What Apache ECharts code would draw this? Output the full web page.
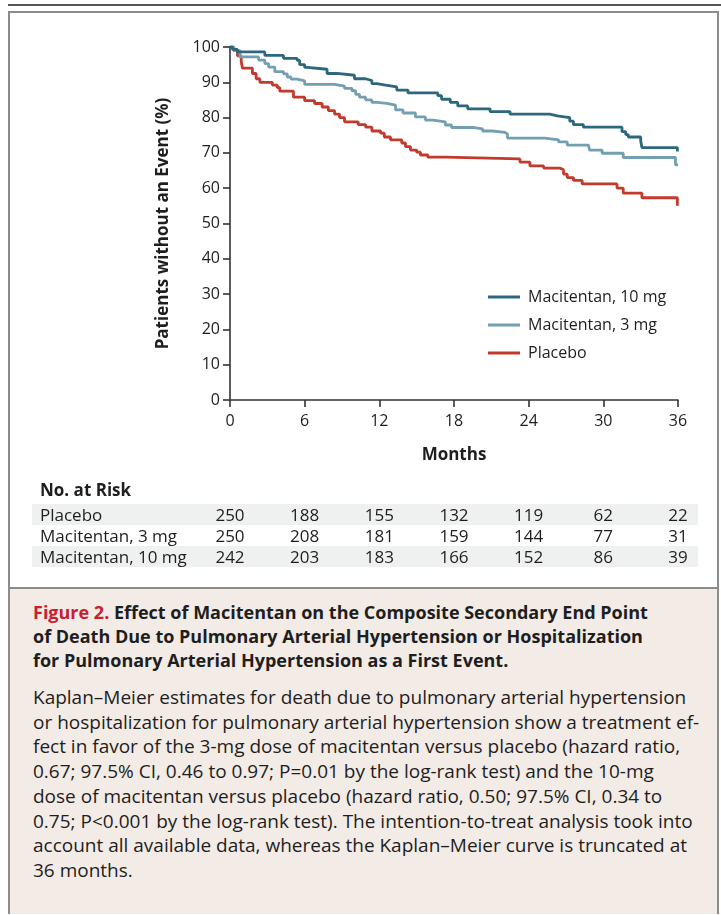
<!DOCTYPE html>
<html>
<head>
<meta charset="utf-8">
<script src="https://cdn.jsdelivr.net/npm/echarts@6/dist/echarts.min.js"></script>
<style>
  html, body { margin: 0; padding: 0; }
  body { width: 721px; height: 915px; position: relative; background: #fff; overflow: hidden;
         font-family: 'Open Sans', 'Noto Sans', sans-serif; color: #1e1e1e; }
  #rule { position: absolute; left: 8px; top: 4px; width: 713px; height: 2px; background: #555; }
  #frame { position: absolute; left: 8px; top: 11px; width: 707px; height: 899px; border: 2px solid #8c8c8c; }
  #caption { position: absolute; left: 10px; top: 587px; width: 707px; height: 325px; background: #f3ebe6; border-top: 2px solid #8c8c8c; }
  #chart { position: absolute; left: 0; top: 0; width: 721px; height: 480px; }
  #risk { position: absolute; left: 0; top: 0; width: 721px; height: 590px; pointer-events: none; }
  .band { position: absolute; left: 32px; width: 666px; height: 21px; }
  .rlabel { position: absolute; left: 40px; font-size: 17px; line-height: 21px; white-space: nowrap; }
  .rnum { position: absolute; font-size: 17px; line-height: 21px; width: 40px; margin-left: -20px; text-align: center; }
  #risktitle { position: absolute; left: 40px; top: 479px; font-size: 17px; font-weight: 700; line-height: 22px; }
  #captext { position: absolute; left: 33px; top: 600px; width: 680px; }
  .hd { font-size: 18px; font-weight: 700; line-height: 24px; white-space: nowrap; }
  .hd .fig { color: #c8202f; }
  .bd { font-size: 19px; line-height: 24.7px; white-space: nowrap; }
  #body { margin-top: 13px; }
</style>
</head>
<body>
<div id="rule"></div>
<div id="frame"></div>
<div id="caption"></div>
<div id="chart"></div>
<div id="risk"></div>
<div id="captext">
  <div class="hd"><span class="fig">Figure 2.</span> Effect of Macitentan on the Composite Secondary End Point</div>
  <div class="hd">of Death Due to Pulmonary Arterial Hypertension or Hospitalization</div>
  <div class="hd">for Pulmonary Arterial Hypertension as a First Event.</div>
  <div id="body">
    <div class="bd">Kaplan–Meier estimates for death due to pulmonary arterial hypertension</div>
    <div class="bd">or hospitalization for pulmonary arterial hypertension show a treatment ef-</div>
    <div class="bd">fect in favor of the 3-mg dose of macitentan versus placebo (hazard ratio,</div>
    <div class="bd">0.67; 97.5% CI, 0.46 to 0.97; P=0.01 by the log-rank test) and the 10-mg</div>
    <div class="bd">dose of macitentan versus placebo (hazard ratio, 0.50; 97.5% CI, 0.34 to</div>
    <div class="bd">0.75; P&lt;0.001 by the log-rank test). The intention-to-treat analysis took into</div>
    <div class="bd">account all available data, whereas the Kaplan–Meier curve is truncated at</div>
    <div class="bd">36 months.</div>
  </div>
</div>
<script>
// ---- Kaplan–Meier step data (months, % without event) ----
const placeboTimes  = [0, 0.3, 0.6, 0.9, 1.0, 1.8, 2.1, 2.4, 3.4, 3.8, 4.0, 5.1, 6.0, 6.8, 7.4, 7.9, 8.4, 8.8, 9.2, 10.3, 10.9, 11.4, 12.1, 12.4, 12.9, 13.8, 14.1, 14.5, 15.0, 15.3, 15.9, 17.3, 23.3, 24.1, 25.2, 26.5, 26.8, 27.1, 27.6, 28.3, 31.1, 31.6, 33.1, 35.95, 36];
const placeboValues = [100, 99, 97.5, 96, 94, 92.5, 91, 90, 89.2, 88.5, 87.5, 85.8, 84.8, 84, 83, 82, 81, 80, 78.8, 78, 77.3, 76.2, 75.6, 74.5, 73.7, 72.8, 71.8, 70.8, 70.2, 69.4, 68.8, 68.3, 67.4, 66.3, 65.7, 65.2, 64, 63, 62.2, 61.2, 60, 58.6, 57.3, 55, 55];

const mac3Times  = [0, 0.3, 0.8, 2.3, 2.8, 3.1, 3.6, 4.3, 4.6, 4.9, 5.4, 6.0, 8.4, 9.2, 9.8, 10.1, 10.4, 10.9, 11.4, 11.8, 12.6, 13.3, 13.9, 14.9, 15.7, 16.3, 17.3, 17.8, 19.5, 20.3, 21.1, 22.1, 22.3, 25.3, 26.4, 27.1, 28.8, 28.9, 29.9, 31.6, 35.8, 36];
const mac3Values = [100, 99, 97.2, 96.3, 95.3, 94.3, 93, 92.4, 91.5, 90.9, 90.4, 89.4, 88.9, 88.3, 87.6, 86.6, 85.8, 85, 84.3, 84, 83.5, 82.2, 81.3, 80.2, 79.3, 78.8, 77.9, 77.2, 76.8, 76.2, 75.8, 75.3, 74.2, 73.7, 73.1, 72.2, 71.7, 70.8, 69.9, 68.7, 66.6, 66.6];

const mac10Times  = [0, 0.2, 0.6, 2.8, 4.3, 5.4, 5.6, 6.0, 6.2, 7.8, 8.6, 10.0, 10.9, 11.4, 11.8, 12.5, 13.4, 14.3, 16.7, 17.0, 17.7, 18.3, 19.1, 20.9, 22.5, 25.7, 26.3, 27.3, 27.6, 28.4, 31.5, 31.8, 32.0, 33.0, 33.1, 35.95, 36];
const mac10Values = [100, 99.3, 98.6, 97.6, 96.8, 96.2, 95, 94.2, 93.7, 92.5, 92, 91, 90.5, 89.6, 89.2, 88.7, 87.8, 87, 86.2, 85.2, 84.3, 83.3, 82.5, 81.7, 81, 80.5, 80, 79, 78, 77.3, 76, 75.2, 74.5, 73.5, 71.5, 70.4, 70.4];

// ---- axis ticks ----
const monthTicks = [0, 6, 12, 18, 24, 30, 36];
const pctTicks = [0, 10, 20, 30, 40, 50, 60, 70, 80, 90, 100];

// ---- number at risk ----
const riskGroups  = ['Placebo', 'Macitentan, 3 mg', 'Macitentan, 10 mg'];
const riskPlacebo = [250, 188, 155, 132, 119, 62, 22];
const riskMac3    = [250, 208, 181, 159, 144, 77, 31];
const riskMac10   = [242, 203, 183, 166, 152, 86, 39];

const seriesNames = ['Macitentan, 10 mg', 'Macitentan, 3 mg', 'Placebo'];
const colors = { 'Macitentan, 10 mg': '#2b687d', 'Macitentan, 3 mg': '#729fb1', 'Placebo': '#c23a2b' };

function pairs(ts, vs) { return ts.map((t, i) => [t, vs[i]]); }

const FONT = "'Open Sans', 'Noto Sans', sans-serif";
const chart = echarts.init(document.getElementById('chart'), null, { renderer: 'canvas' });

const series = [
  { name: 'Placebo', data: pairs(placeboTimes, placeboValues) },
  { name: 'Macitentan, 3 mg', data: pairs(mac3Times, mac3Values) },
  { name: 'Macitentan, 10 mg', data: pairs(mac10Times, mac10Values) }
].map(s => ({
  name: s.name, type: 'line', step: 'end', data: s.data, showSymbol: false, symbol: 'none',
  lineStyle: { color: colors[s.name], width: 2.8 }, itemStyle: { color: colors[s.name] },
  emphasis: { disabled: true }
}));

chart.setOption({
  animation: false,
  textStyle: { fontFamily: FONT },
  grid: { left: 230, top: 47, width: 448, height: 353 },
  legend: {
    data: seriesNames, orient: 'vertical', left: 488, top: 287, padding: 0,
    icon: 'rect', itemWidth: 32, itemHeight: 3, itemGap: 8,
    textStyle: { fontFamily: FONT, fontSize: 16, color: '#1e1e1e', lineHeight: 20, padding: [0, 0, 0, 3] },
    selectedMode: false
  },
  xAxis: {
    type: 'value', min: 0, max: 36, interval: 6,
    name: 'Months', nameLocation: 'middle', nameGap: 47,
    nameTextStyle: { fontFamily: FONT, fontSize: 17, fontWeight: 'bold', color: '#1e1e1e' },
    axisLine: { show: true, lineStyle: { color: '#333', width: 1.6 } },
    axisTick: { show: true, length: 7, lineStyle: { color: '#333', width: 1.6 } },
    axisLabel: { fontFamily: FONT, fontSize: 16, color: '#1e1e1e', margin: 13,
                 formatter: v => monthTicks.includes(v) ? String(v) : '' },
    splitLine: { show: false }
  },
  yAxis: {
    type: 'value', min: 0, max: 100, interval: 10,
    name: 'Patients without an Event (%)', nameLocation: 'middle', nameGap: 58, nameRotate: 90,
    nameTextStyle: { fontFamily: FONT, fontSize: 17, fontWeight: 'bold', color: '#1e1e1e' },
    axisLine: { show: true, lineStyle: { color: '#333', width: 1.6 } },
    axisTick: { show: true, length: 7, lineStyle: { color: '#333', width: 1.6 } },
    axisLabel: { fontFamily: FONT, fontSize: 16, color: '#1e1e1e', margin: 10,
                 formatter: v => pctTicks.includes(v) ? String(v) : '' },
    splitLine: { show: false }
  },
  series: series
});

// ---- build number-at-risk table aligned to the x-axis scale ----
const risk = document.getElementById('risk');
const title = document.createElement('div');
title.id = 'risktitle'; title.textContent = 'No. at Risk';
risk.appendChild(title);
const rowVals = [riskPlacebo, riskMac3, riskMac10];
const rowTop0 = 503.5, rowH = 21.3;
riskGroups.forEach((g, r) => {
  const top = rowTop0 + r * rowH;
  const band = document.createElement('div');
  band.className = 'band';
  band.style.top = top + 'px';
  band.style.background = (r % 2 === 0) ? '#eff0f0' : '#ffffff';
  risk.appendChild(band);
  const lab = document.createElement('div');
  lab.className = 'rlabel'; lab.style.top = top + 'px'; lab.textContent = g;
  risk.appendChild(lab);
  rowVals[r].forEach((v, i) => {
    const x = chart.convertToPixel({ xAxisIndex: 0 }, monthTicks[i]);
    const d = document.createElement('div');
    d.className = 'rnum'; d.style.left = x + 'px'; d.style.top = top + 'px'; d.textContent = v;
    risk.appendChild(d);
  });
});
</script>
</body>
</html>
